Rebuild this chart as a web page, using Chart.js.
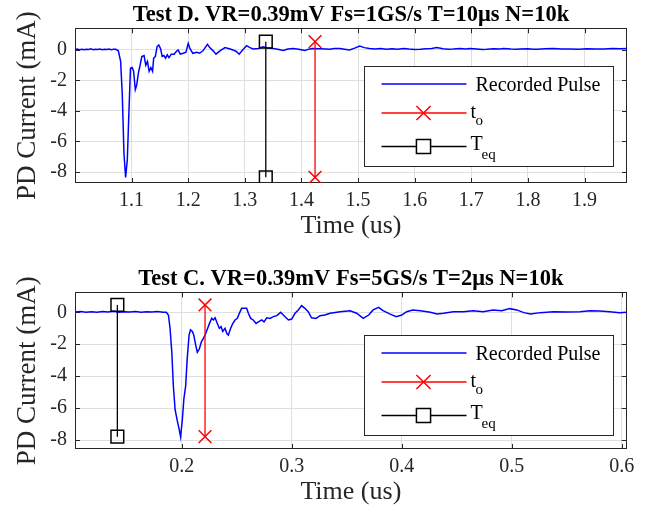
<!DOCTYPE html>
<html>
<head>
<meta charset="utf-8">
<script src="https://cdn.jsdelivr.net/npm/chart.js@4.4.1/dist/chart.umd.min.js"></script>
<style>
  html, body { margin: 0; padding: 0; background: #fff; }
  #wrap { position: relative; width: 651px; height: 513px; }
  canvas { position: absolute; left: 0; top: 0; }
</style>
</head>
<body>
<div id="wrap">
  <canvas id="chartD" width="651" height="513"></canvas>
  <canvas id="chartC" width="651" height="513"></canvas>
</div>
<script>
// Test D (1 GS/s) - recorded pulse, time in us, current in mA
const timeD = [
  1.000, 1.004, 1.008, 1.012, 1.016, 1.020, 1.024, 1.028, 1.032, 1.036,
  1.040, 1.044, 1.048, 1.052, 1.056, 1.060, 1.064, 1.068, 1.072, 1.0765,
  1.0806, 1.0835, 1.0865, 1.0894, 1.0924, 1.0953, 1.098, 1.101, 1.1035, 1.1065,
  1.109, 1.112, 1.115, 1.118, 1.122, 1.125, 1.128, 1.131, 1.134, 1.137,
  1.139, 1.142, 1.145, 1.148, 1.151, 1.154, 1.157, 1.160, 1.163, 1.166,
  1.170, 1.175, 1.179, 1.182, 1.186, 1.191, 1.196, 1.200, 1.203, 1.208,
  1.215, 1.220, 1.226, 1.234, 1.238, 1.244, 1.249, 1.256, 1.265, 1.274,
  1.279, 1.285, 1.290, 1.296, 1.303, 1.309, 1.315, 1.324, 1.332, 1.340,
  1.350, 1.358, 1.368, 1.376, 1.385, 1.395, 1.406, 1.413, 1.420, 1.432,
  1.444, 1.450, 1.458, 1.468, 1.476, 1.485, 1.494, 1.503, 1.511, 1.520,
  1.530, 1.540, 1.550, 1.560, 1.570, 1.580, 1.590, 1.600, 1.610, 1.620,
  1.630, 1.639, 1.650, 1.660, 1.668, 1.680, 1.690, 1.698, 1.710, 1.720,
  1.727, 1.740, 1.750, 1.757, 1.770, 1.780, 1.786, 1.800, 1.810, 1.816,
  1.830, 1.845, 1.860, 1.875, 1.890, 1.904, 1.920, 1.934, 1.950, 1.963, 1.975
];
const currentD = [
  0.03, 0.06, 0.02, 0.05, 0.01, 0.05, 0.03, 0.07, 0.02, 0.05,
  0.03, 0.06, 0.02, 0.05, 0.03, 0.06, 0.02, 0.05, 0.04, -0.06,
  -0.75, -2.9, -6.8, -8.35, -7.2, -4.0, -1.2, -1.15, -1.4, -2.6,
  -2.3, -1.5, -1.0, -0.43, -0.37, -1.0, -0.76, -1.4, -1.15, -1.4,
  -0.54, -0.43, 0.22, 0.32, 0.1, -0.43, -0.37, -0.54, -0.32, -0.5,
  -0.28, -0.28, -0.1, 0.0, -0.28, -0.22, -0.15, 0.43, 0.1, -0.22,
  -0.15, -0.22, -0.06, 0.37, 0.15, -0.06, -0.28, -0.06, 0.15, 0.06,
  0.0, -0.1, -0.28, 0.0, 0.28, 0.15, 0.06, 0.1, 0.2, 0.12,
  0.1, 0.05, -0.04, 0.06, 0.1, 0.04, -0.04, 0.05, 0.1, 0.08,
  0.06, 0.04, 0.09, 0.1, 0.05, 0.0, 0.12, 0.26, 0.15, 0.1,
  0.06, 0.09, 0.04, 0.08, 0.05, 0.1, 0.06, 0.03, 0.04, 0.08,
  0.1, 0.15, 0.08, 0.05, 0.06, 0.09, 0.06, 0.1, 0.06, 0.03,
  0.04, 0.08, 0.06, 0.1, 0.06, 0.04, 0.06, 0.08, 0.05, 0.04,
  0.07, 0.1, 0.06, 0.06, 0.04, 0.08, 0.06, 0.06, 0.09, 0.08, 0.1
];
const markerTimesD = [1.424, 1.337];   // t_o, T_eq
const markerLevelsD = [0.54, -8.35];
const xRangeD = [1.0, 1.975];
const yRangeD = [-8.72, 1.42];
const xTicksD = [1.1, 1.2, 1.3, 1.4, 1.5, 1.6, 1.7, 1.8, 1.9];

// Test C (5 GS/s)
const timeC = [
  0.103, 0.108, 0.113, 0.118, 0.123, 0.128, 0.133, 0.138, 0.143, 0.148,
  0.153, 0.158, 0.163, 0.168, 0.173, 0.178, 0.183, 0.186, 0.1879, 0.1894,
  0.191, 0.1924, 0.194, 0.196, 0.1976, 0.199, 0.2006, 0.202, 0.2036, 0.205,
  0.2067, 0.208, 0.2097, 0.211, 0.2127, 0.2142, 0.216, 0.2179, 0.2197, 0.2218,
  0.2236, 0.2258, 0.2273, 0.2288, 0.2303, 0.2324, 0.2342, 0.2358, 0.2373, 0.2394,
  0.241, 0.2424, 0.2445, 0.2464, 0.2485, 0.2506, 0.2524, 0.2545, 0.2567, 0.259,
  0.2606, 0.2627, 0.265, 0.2676, 0.2697, 0.2727, 0.2748, 0.2773, 0.2803, 0.2833,
  0.2864, 0.290, 0.293, 0.297, 0.300, 0.303, 0.306, 0.309, 0.312, 0.315,
  0.318, 0.322, 0.3258, 0.330, 0.335, 0.344, 0.353, 0.359, 0.365, 0.370,
  0.374, 0.379, 0.383, 0.389, 0.395, 0.400, 0.4045, 0.410, 0.417, 0.426,
  0.432, 0.438, 0.447, 0.456, 0.465, 0.474, 0.483, 0.491, 0.498, 0.5045,
  0.511, 0.517, 0.526, 0.538, 0.550, 0.562, 0.571, 0.580, 0.589, 0.598, 0.6045
];
const currentC = [
  0.02, 0.05, 0.01, 0.04, 0.0, 0.05, 0.02, 0.06, 0.01, 0.04,
  0.02, 0.05, 0.0, 0.04, 0.02, 0.05, 0.01, 0.0, -0.17, -1.0,
  -2.5, -4.6, -6.1, -6.8, -7.3, -7.8, -6.7, -5.4, -4.6, -2.9,
  -1.43, -1.1, -1.2, -1.43, -2.06, -2.5, -2.3, -1.85, -1.64, -1.33,
  -1.0, -0.6, -0.38, -0.48, -0.34, -0.7, -1.0, -0.9, -1.2, -1.0,
  -1.33, -1.43, -1.0, -0.7, -0.48, -0.38, -0.06, 0.25, 0.25, 0.25,
  -0.06, -0.38, -0.48, -0.7, -0.6, -0.48, -0.6, -0.34, -0.38, -0.27,
  -0.21, 0.0, -0.21, -0.48, -0.42, -0.06, 0.15, 0.42, 0.25, 0.04,
  -0.34, -0.38, -0.21, -0.17, -0.06, 0.04, 0.1, -0.06, -0.38, -0.17,
  0.15, 0.31, 0.1, -0.1, -0.27, -0.17, 0.04, 0.15, 0.1, 0.0,
  -0.1, -0.06, 0.04, 0.04, 0.1, 0.04, 0.15, 0.1, 0.23, 0.15,
  -0.02, -0.1, -0.02, 0.04, 0.02, 0.04, 0.1, 0.08, 0.04, -0.02, 0.0
];
const markerTimesC = [0.2212, 0.1415];  // t_o, T_eq
const markerLevelsC = [0.46, -7.79];
const xRangeC = [0.103, 0.6045];
const yRangeC = [-8.56, 1.25];
const xTicksC = [0.2, 0.3, 0.4, 0.5, 0.6];

const yTicks = [-8, -6, -4, -2, 0];

const SERIF = "'Liberation Serif', 'Times New Roman', serif";
const AXIS = '#262626';
const GRID = '#dfdfdf';

// MATLAB-like box, inward ticks and legend with subscripts
const matlabBox = {
  id: 'matlabBox',
  beforeDatasetsDraw(chart) {
    const { ctx, chartArea: a, scales: { x, y } } = chart;
    ctx.save();
    ctx.strokeStyle = AXIS;
    ctx.lineWidth = 1;
    ctx.beginPath();
    x.ticks.forEach(t => {
      const px = Math.round(x.getPixelForValue(t.value)) + 0.5;
      ctx.moveTo(px, a.bottom); ctx.lineTo(px, a.bottom - 5);
      ctx.moveTo(px, a.top); ctx.lineTo(px, a.top + 5);
    });
    y.ticks.forEach(t => {
      const py = Math.round(y.getPixelForValue(t.value)) + 0.5;
      ctx.moveTo(a.left, py); ctx.lineTo(a.left + 5, py);
      ctx.moveTo(a.right, py); ctx.lineTo(a.right - 5, py);
    });
    ctx.stroke();
    ctx.strokeRect(Math.round(a.left) + 0.5, Math.round(a.top) + 0.5,
                   Math.round(a.width) - 1, Math.round(a.height) - 1);
    ctx.restore();
  },
  afterDraw(chart) {
    const { ctx, chartArea: a } = chart;
    const opt = chart.options.plugins.matlabBox;
    const w = 249, h = 100;
    const bx = Math.round(a.right - opt.right - w) + 0.5;
    const by = Math.round(a.bottom - opt.bottom - h) + 0.5;
    ctx.save();
    ctx.fillStyle = '#fff';
    ctx.fillRect(bx, by, w, h);
    ctx.strokeStyle = AXIS;
    ctx.lineWidth = 1;
    ctx.strokeRect(bx, by, w, h);

    const x1 = bx + 17, x2 = bx + 102, mx = bx + 59, tx = bx + 106;
    const rows = [by + 17.5, by + 46.5, by + 80];
    const ds = chart.data.datasets;

    ctx.lineWidth = 1.5;
    rows.forEach((ry, i) => {
      ctx.strokeStyle = ds[i].borderColor;
      ctx.beginPath(); ctx.moveTo(x1, ry); ctx.lineTo(x2, ry); ctx.stroke();
    });
    ctx.strokeStyle = ds[1].borderColor;
    Chart.helpers.drawPoint(ctx, { pointStyle: 'crossRot', radius: 10, borderWidth: 1.5 }, mx, rows[1]);
    ctx.strokeStyle = ds[2].borderColor;
    Chart.helpers.drawPoint(ctx, { pointStyle: 'rect', radius: 10, borderWidth: 1.5 }, mx, rows[2]);

    ctx.fillStyle = '#000';
    ctx.textBaseline = 'alphabetic';
    ctx.textAlign = 'left';
    ctx.font = '20px ' + SERIF;
    ctx.fillText('Recorded Pulse', tx + 5, rows[0] + 7);
    ctx.fillText('t', tx, rows[1] + 4.5);
    ctx.fillText('T', tx, rows[2] + 3);
    ctx.font = '15px ' + SERIF;
    ctx.fillText('o', tx + 5, rows[1] + 12);
    ctx.fillText('eq', tx + 11, rows[2] + 12);
    ctx.restore();
  }
};

function makeChart(id, cfg) {
  const pulse = cfg.time.map((t, i) => ({ x: t, y: cfg.current[i] }));
  const vline = t => cfg.levels.map(v => ({ x: t, y: v }));

  return new Chart(document.getElementById(id), {
    type: 'scatter',
    data: {
      datasets: [
        {
          label: 'Recorded Pulse', data: pulse, showLine: true,
          borderColor: '#0000ff', borderWidth: 1.5, pointRadius: 0, order: 3
        },
        {
          label: 't_o', data: vline(cfg.markers[0]), showLine: true,
          borderColor: '#ff0000', borderWidth: 1.3,
          pointStyle: 'crossRot', pointRadius: 9, pointBorderWidth: 1.5,
          pointBorderColor: '#ff0000', order: 2
        },
        {
          label: 'T_eq', data: vline(cfg.markers[1]), showLine: true,
          borderColor: '#000000', borderWidth: 1.3,
          pointStyle: 'rect', pointRadius: 9, pointBorderWidth: 1.5,
          pointBorderColor: '#000000', pointBackgroundColor: 'rgba(0,0,0,0)', order: 1
        }
      ]
    },
    options: {
      responsive: false,
      animation: false,
      devicePixelRatio: 1,
      layout: { padding: cfg.padding },
      plugins: {
        legend: { display: false },
        tooltip: { enabled: false },
        title: {
          display: true, text: cfg.title, color: '#000', fullSize: false,
          font: { family: SERIF, size: 22.5, weight: 'bold', lineHeight: 1.1 },
          padding: { top: 3, bottom: 0.5 }
        },
        matlabBox: cfg.legend
      },
      scales: {
        x: {
          type: 'linear', min: cfg.xRange[0], max: cfg.xRange[1],
          afterBuildTicks: s => { s.ticks = cfg.xTicks.map(v => ({ value: v })); },
          afterFit: s => { s.height = 60; },
          grid: { color: GRID, drawTicks: false },
          border: { display: false },
          ticks: {
            color: AXIS, padding: 6, maxRotation: 0,
            font: { family: SERIF, size: 20 },
            callback: v => v.toFixed(1)
          },
          title: {
            display: true, text: 'Time (us)', color: AXIS,
            font: { family: SERIF, size: 26, lineHeight: 1 },
            padding: { top: 0, bottom: 4 }
          }
        },
        y: {
          type: 'linear', min: cfg.yRange[0], max: cfg.yRange[1],
          afterBuildTicks: s => { s.ticks = yTicks.map(v => ({ value: v })); },
          afterFit: s => { s.width = 75; },
          grid: { color: GRID, drawTicks: false },
          border: { display: false },
          ticks: {
            color: AXIS, padding: 8,
            font: { family: SERIF, size: 20 },
            callback: v => String(v)
          },
          title: {
            display: true, text: 'PD Current (mA)', color: AXIS,
            font: { family: SERIF, size: 27, lineHeight: 1 },
            padding: { top: 14, bottom: 0 }
          }
        }
      }
    },
    plugins: [matlabBox]
  });
}

makeChart('chartD', {
  time: timeD, current: currentD, markers: markerTimesD, levels: markerLevelsD,
  xRange: xRangeD, yRange: yRangeD, xTicks: xTicksD,
  title: 'Test D. VR=0.39mV Fs=1GS/s T=10\u03bcs N=10k',
  padding: { left: 0, right: 24, top: 0, bottom: 270 },
  legend: { right: 14, bottom: 17 }
});

makeChart('chartC', {
  time: timeC, current: currentC, markers: markerTimesC, levels: markerLevelsC,
  xRange: xRangeC, yRange: yRangeC, xTicks: xTicksC,
  title: 'Test C. VR=0.39mV Fs=5GS/s T=2\u03bcs N=10k',
  padding: { left: 0, right: 24.3, top: 264.1, bottom: 4 },
  legend: { right: 13.4, bottom: 14 }
});
</script>
</body>
</html>
